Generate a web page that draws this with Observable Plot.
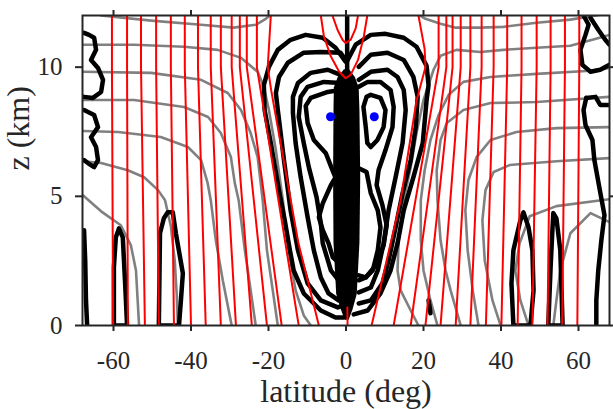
<!DOCTYPE html>
<html><head><meta charset="utf-8">
<script src="https://cdn.jsdelivr.net/npm/d3@7"></script>
<script src="https://cdn.jsdelivr.net/npm/@observablehq/plot@0.6"></script>
<style>
body{margin:0;background:#fff}
</style>
</head><body><div id="chart"></div>
<script>
const latDomain = [-68, 68];
const zDomain = [0, 12];
const xTicks = [-60, -40, -20, 0, 20, 40, 60];
const yTicks = [0, 5, 10];

// red (nearly vertical) lines: latitude at top (z=12), knee (z=10) and bottom (z=0)
const redTopLat = [-60.4, -56.5, -52.9, -49.0, -45.2, -41.6, -38.2, -34.9, -32.3, -29.5, -27.4, -25.6, -23.0,
                   23.9, 25.9, 27.5, 29.6, 32.1, 35.0, 38.1, 41.6, 45.3, 49.2, 52.8, 56.5, 60.2];
const redBottomLat = [-60.1, -56.3, -51.9, -48.3, -44.4, -40.0, -36.2, -32.3, -28.4, -24.3, -20.4, -16.6, -12.2,
                      12.3, 16.7, 20.5, 24.4, 28.3, 32.1, 36.1, 40.1, 44.3, 48.1, 52.0, 55.8, 59.7];
const redKneeZ = 10;
const redL14 = [[-19.4,12],[-20.2,10.0],[-19.3,9.1],[-12.3,3.2],[-7.0,0]];
const redR14 = [[18.7,12],[20.3,10.7],[20.5,10.0],[18.2,8.7],[14.1,4.85],[6.6,0]];
const redOuterU = [[-6.5,12],[-5.7,11.19],[-3.9,10.41],[-1.8,9.83],[-0.1,9.57],[1.2,9.7],[3.1,10.28],[4.6,11.19],[5.5,12]];
const redInnerV = [[-3.5,12],[-2.2,11.45],[-0.9,11.06],[-0.1,10.93],[1.2,11.06],[2.5,11.5],[3.1,12]];
const redCenter = [[0.4,0],[0.35,0.7]];

// gray lines
const grayTopL = [[-63.2,12.0],[-50.3,11.8],[-37.4,11.64],[-29.0,11.53],[-23.3,11.64],[-20.7,11.87],[-19.4,12.03]];
const grayL1 = [[-67.9,10.87],[-54.7,10.87],[-41.8,10.79],[-33.1,10.67],[-27.1,10.36],[-22.8,9.82],[-21.2,9.24],[-19.9,8.34],[-18.1,6.79],[-16.3,4.85],[-14.8,2.91],[-13.0,1.36],[-10.9,0.39],[-9.1,0]];
const grayL2 = [[-67.9,9.82],[-50.3,9.78],[-37.4,9.51],[-30.5,9.0],[-27.1,8.34],[-24.6,7.45],[-22.8,6.52],[-21.5,4.85],[-20.4,2.91],[-18.9,1.36],[-17.6,0]];
const grayL3 = [[-67.9,8.73],[-54.7,8.73],[-41.8,8.46],[-35.6,8.07],[-32.3,7.45],[-29.7,6.52],[-28.7,5.51],[-27.7,4.85],[-26.1,2.91],[-24.6,1.36],[-23.3,0]];
const grayL4 = [[-67.9,7.53],[-58.8,7.49],[-47.8,7.3],[-40.8,6.91],[-37.4,6.4],[-35.7,5.51],[-34.9,4.85],[-33.6,3.3],[-31.8,1.75],[-29.5,0]];
const grayL5 = [[-67.9,6.36],[-63.2,6.29],[-56.3,6.01],[-52.1,5.74],[-48.5,5.24],[-46.7,4.85],[-45.2,3.84],[-44.2,2.52],[-43.6,0.97],[-43.4,0]];
const grayL6 = [[-67.9,5.04],[-63.2,4.42],[-58.1,3.88],[-55.5,3.1],[-54.2,2.13],[-53.4,0]];
const grayTopR = [[18.7,12.03],[20.5,11.87],[24.4,11.68],[28.3,11.53],[34.7,11.53],[40.6,11.56],[49.2,11.72],[57.9,11.84],[65.6,12.03]];
const grayR1 = [[68.0,11.25],[66.4,11.18],[57.9,10.83],[49.2,10.75],[40.6,10.67],[34.7,10.59],[28.5,10.67],[24.4,10.44],[22.6,9.9],[20.0,8.73],[18.2,7.45],[16.7,6.13],[14.9,4.85],[13.6,3.3],[13.3,2.13],[14.1,1.36],[16.7,0.58],[18.7,0]];
const grayR2 = [[68.0,9.97],[63.1,9.86],[49.2,9.74],[37.3,9.62],[30.3,9.43],[26.5,8.93],[23.9,8.15],[21.8,7.18],[20.3,6.01],[19.3,4.85],[19.3,3.3],[20.0,2.13],[21.8,0.97],[23.6,0]];
const grayR3 = [[68.0,8.85],[49.2,8.65],[37.3,8.61],[30.3,8.34],[26.0,7.84],[24.4,7.18],[23.4,6.01],[23.6,4.85],[24.4,3.3],[25.7,2.13],[27.0,1.36],[29.6,0]];
const grayR4 = [[68.0,7.68],[54.3,7.64],[44.0,7.49],[37.3,7.18],[33.7,6.52],[31.6,5.63],[30.8,4.46],[31.4,2.91],[32.7,1.36],[34.2,0]];
const grayR5 = [[68.0,6.48],[54.3,6.36],[42.2,6.21],[38.1,5.94],[36.0,5.24],[35.2,4.07],[35.8,2.52],[37.8,0.97],[39.9,0]];
const grayR6 = [[68.0,4.89],[54.3,4.62],[47.4,4.23],[44.8,3.18],[43.7,2.13],[45.0,0.97],[47.1,0]];
const grayR7 = [[68.0,4.0],[63.1,4.35],[57.9,3.57],[55.3,2.13],[54.3,0.97],[53.5,0]];

// black contours
const blackL1 = [[-0.1,10.21],[-2.7,10.75],[-6.0,11.14],[-10.4,11.25],[-14.3,11.06],[-17.6,10.67],[-19.9,10.01],[-21.2,9.31],[-21.0,8.34],[-19.4,7.06],[-17.3,5.24],[-15.8,4.07],[-14.7,3.1],[-13.5,2.13],[-10.9,1.24],[-6.5,0.58],[-2.7,0.31],[-0.6,0.31]];
const blackL2 = [[-0.1,10.28],[-1.4,10.56],[-6.5,10.59],[-10.9,10.56],[-15.0,10.17],[-17.3,9.62],[-18.1,9.0],[-17.6,8.34],[-16.0,6.4],[-14.3,4.46],[-12.4,2.91],[-9.9,1.63],[-6.5,0.97],[-2.1,0.7],[-0.6,0.78]];
const blackL3 = [[-1.4,9.7],[-4.7,9.9],[-9.1,9.78],[-12.4,9.39],[-13.7,8.85],[-13.7,8.23],[-13.0,7.06],[-11.7,5.74],[-9.9,4.19],[-8.3,2.91],[-6.5,1.86],[-4.5,1.24],[-1.9,0.97]];
const blackL4 = [[-1.4,9.39],[-5.7,9.43],[-9.9,9.24],[-11.7,8.85],[-12.2,8.07],[-10.9,7.06],[-9.6,6.13],[-7.6,4.97],[-6.5,3.96],[-6.0,3.18],[-3.9,2.13],[-1.9,1.75]];
const blackL5a = [[-1.4,9.12],[-4.7,9.04],[-9.1,8.81],[-10.4,8.5],[-9.9,7.84],[-8.3,7.18],[-5.2,6.67],[-3.7,6.09],[-1.9,5.43]];
const blackL5b = [[-1.9,5.94],[-3.9,5.43],[-6.0,4.73],[-7.0,4.19],[-6.0,3.69],[-4.5,3.18],[-3.4,2.64],[-1.9,2.44]];
const blackR1 = [[0.2,10.21],[2.5,10.87],[6.4,11.25],[10.2,11.29],[14.9,11.14],[18.2,10.79],[20.8,10.05],[21.3,9.31],[20.8,8.73],[19.8,7.06],[17.4,5.74],[14.9,4.46],[13.3,3.18],[11.5,2.13],[8.9,1.24],[5.6,0.58],[2.0,0.43]];
const blackR2 = [[3.3,10.01],[6.4,10.48],[10.7,10.56],[14.9,10.28],[17.4,9.62],[18.5,8.85],[18.0,7.68],[16.7,6.4],[14.6,5.12],[12.8,3.8],[11.0,2.52],[9.4,1.63],[6.4,0.97],[3.3,0.85]];
const blackR3 = [[3.3,9.51],[6.4,9.82],[10.7,9.9],[13.3,9.62],[14.9,9.12],[15.4,8.34],[14.6,7.06],[12.8,5.74],[11.0,4.46],[9.7,3.18],[8.2,2.13],[6.4,1.47],[3.3,1.28]];
const blackR4 = [[3.3,9.24],[5.6,9.43],[8.9,9.43],[11.5,9.12],[12.3,8.46],[12.0,7.68],[10.2,6.79],[8.4,6.01],[7.9,5.43],[9.4,4.66],[10.5,3.88],[9.7,3.1],[7.7,2.33],[5.1,1.86],[3.3,1.75]];
const blackR5a = [[5.3,8.85],[6.4,8.93],[8.9,8.81],[10.2,8.34],[9.7,7.68],[8.1,7.18],[6.4,6.91],[5.5,7.06],[5.1,7.68],[4.5,8.46],[5.3,8.85]];
const blackR5b = [[3.3,6.09],[5.3,5.94],[6.4,5.12],[8.2,4.46],[8.9,3.8],[8.2,2.91],[6.9,2.13],[5.1,1.86],[3.3,1.94]];
const blackStem = [[0.3,12],[0.3,9.9]];
const blobL1 = [[-67.6,11.33],[-66.3,11.25],[-65.0,11.14],[-64.5,10.67],[-65.8,10.28],[-64.0,9.97],[-62.7,9.51],[-63.2,9.04],[-65.3,8.81],[-67.6,8.85]];
const blobL2 = [[-67.6,8.34],[-65.0,8.15],[-64.0,7.68],[-65.8,7.29],[-64.5,6.91],[-64.0,6.4],[-65.0,6.13],[-66.6,6.29],[-67.6,6.4]];
const blobL3 = [[-67.6,3.69],[-67.3,2.52],[-67.1,0.97],[-66.8,0]];
const fingerL1 = [[-59.9,0],[-59.9,2.25],[-59.4,3.41],[-58.6,3.76],[-57.6,3.41],[-57.0,1.63],[-56.5,0],[-59.9,0]];
const fingerL2 = [[-48.3,0],[-48.0,3.57],[-47.0,4.15],[-46.0,4.38],[-44.7,4.38],[-43.9,3.57],[-42.1,2.02],[-42.6,0.97],[-43.1,0],[-48.3,0]];
const fingerR1 = [[43.2,0],[42.7,1.63],[43.2,2.91],[45.0,4.07],[45.8,4.38],[47.1,3.8],[48.1,2.91],[48.4,1.36],[47.6,0],[43.2,0]];
const fingerR2 = [[52.2,0],[52.8,2.25],[53.3,3.8],[53.5,4.35],[54.3,4.15],[55.3,2.91],[55.9,0],[52.2,0]];
const blobR1 = [[61.3,12.0],[62.6,11.64],[61.8,11.25],[60.5,10.67],[61.0,10.09],[63.1,9.82],[65.6,9.9],[68.0,10.09]];
const blobR1b = [[63.1,11.91],[65.1,11.45],[66.9,11.06],[68.0,10.87]];
const blobR2 = [[62.0,8.81],[61.3,8.34],[61.8,7.76],[63.6,7.18],[64.1,6.4],[65.6,5.16],[66.7,4.27],[65.9,3.3],[65.1,2.13],[64.6,0.97],[64.6,0]];
const blobR2b = [[62.0,8.81],[64.4,8.85],[65.6,8.54],[68.0,8.54]];
const blobTiny = [[21.3,0.97],[21.6,0.7],[21.8,0.47]];

// central filled column
const columnZ = [9.9, 9.6, 9.2, 8.3, 5.7, 3.2, 1.2, 0.6, 0.2];
const columnLeft = [-0.4, -2.0, -3.0, -3.1, -3.2, -3.1, -2.4, -1.2, -0.2];
const columnRight = [0.9, 2.4, 3.4, 3.6, 3.8, 3.6, 2.9, 1.8, 0.8];

// blue maxima
const peakLat = [-4.0, 7.3];
const peakZ = [8.08, 8.08];

const toRows = (lines) => lines.flatMap((pts, id) => pts.map(([lat, z]) => ({lat, z, id})));

const redStraight = redTopLat.map((t, i) => [[t, 12], [t, redKneeZ], [redBottomLat[i], 0]]);
const redLines = [...redStraight, redL14, redR14, redOuterU, redInnerV, redCenter];
const grayLines = [grayTopL, grayL1, grayL2, grayL3, grayL4, grayL5, grayL6, grayTopR, grayR1, grayR2, grayR3, grayR4, grayR5, grayR6, grayR7];
const blackLines = [blackL1, blackL2, blackL3, blackL4, blackL5a, blackL5b, blackR1, blackR2, blackR3, blackR4, blackR5a, blackR5b, blackStem,
  blobL1, blobL2, blobL3, fingerL1, fingerL2, fingerR1, fingerR2, blobR1, blobR1b, blobR2, blobR2b, blobTiny];
const columnRows = columnZ.map((z, i) => ({z, lo: columnLeft[i], hi: columnRight[i]}));
const peaks = peakLat.map((lat, i) => ({lat, z: peakZ[i]}));

const ink = "#262626";
const serif = "'Liberation Serif', 'Times New Roman', serif";
const chart = Plot.plot({
  width: 613, height: 409,
  marginTop: 15, marginRight: 4, marginBottom: 84, marginLeft: 82,
  style: {fontFamily: serif, background: "#fff", color: ink, overflow: "visible"},
  x: {domain: latDomain},
  y: {domain: zDomain},
  marks: [
    Plot.line(toRows(grayLines), {x: "lat", y: "z", z: "id", stroke: "#808080", strokeWidth: 2.6, clip: true}),
    Plot.areaX(columnRows, {y: "z", x1: "lo", x2: "hi", fill: "black", clip: true}),
    Plot.line(toRows(blackLines), {x: "lat", y: "z", z: "id", stroke: "black", strokeWidth: 4.5, strokeLinejoin: "round", strokeLinecap: "round", clip: true}),
    Plot.line(toRows(redLines), {x: "lat", y: "z", z: "id", stroke: "#ff0000", strokeWidth: 2, clip: true}),
    Plot.dot(peaks, {x: "lat", y: "z", r: 4.5, fill: "#0000ff", stroke: null}),
    Plot.frame({stroke: ink, strokeWidth: 2}),
    Plot.axisX({ticks: xTicks, tickSize: 6, tickPadding: 20, fontSize: 25, strokeWidth: 2, tickFormat: d => String(d), label: null}),
    Plot.axisX({anchor: "top", ticks: xTicks, tickSize: 6, strokeWidth: 2, tickFormat: () => "", label: null}),
    Plot.axisY({ticks: yTicks, tickSize: 7, tickPadding: 13, fontSize: 25, strokeWidth: 2, tickFormat: d => String(d), label: null}),
    Plot.axisY({anchor: "right", ticks: yTicks, tickSize: 6, strokeWidth: 2, tickFormat: () => "", label: null}),
    Plot.text(["latitude (deg)"], {text: d => d, frameAnchor: "bottom", dy: 76, fontSize: 32, fill: ink}),
    Plot.text(["z (km)"], {text: d => d, frameAnchor: "left", dx: -64, rotate: -90, fontSize: 32, fill: ink})
  ]
});
document.getElementById("chart").appendChild(chart);
</script>
</body></html>
